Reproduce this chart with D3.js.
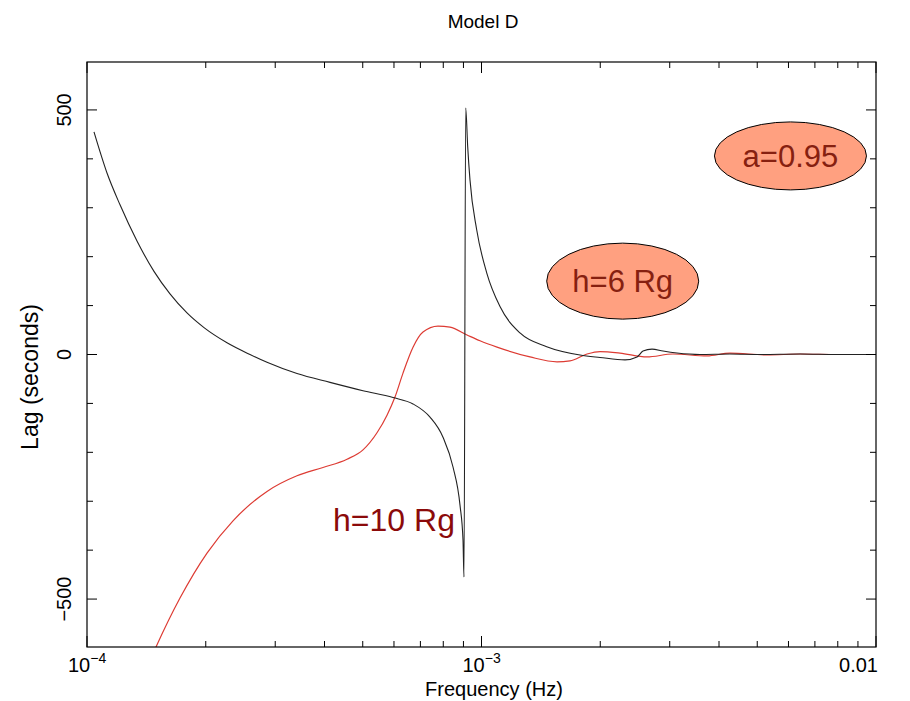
<!DOCTYPE html>
<html><head><meta charset="utf-8">
<script src="https://cdn.jsdelivr.net/npm/d3@7"></script>
<style>body{margin:0;background:#fff}text{font-family:"Liberation Sans",Arial,Helvetica,sans-serif}</style>
</head><body><svg id="c" width="910" height="701"></svg>
<script>
// ---- data (log10 of frequency in Hz, lag in seconds) ----
const blackLogF = [-3.9823,-3.9493,-3.9163,-3.8733,-3.8302,-3.7896,-3.7465,-3.7034,-3.6451,-3.5868,-3.5437,-3.4677,-3.3840,-3.3004,-3.2243,-3.1736,-3.1305,-3.0976,-3.0722,-3.0545,-3.0469,-3.0444,-3.0400,-3.0350,-3.0292,-3.0122,-2.9868,-2.9531,-2.9024,-2.8347,-2.7503,-2.6996,-2.6362,-2.6058,-2.5906,-2.5678,-2.5399,-2.5044,-2.4461,-2.3701,-2.2940,-2.1926,-2.1000,-2.0000];
const blackLag  = [455,371,306,232,170,124,85,55,24,0,-16,-39,-57,-74,-88,-101,-128,-169,-230,-308,-379,-455,504,425,357,255,167,98,44,16,-1,-6,-11,-5,7,11,7,3,0,1,0,1,0,0];
const redLogF = [-3.8450,-3.8251,-3.7643,-3.6958,-3.6299,-3.5437,-3.4677,-3.4018,-3.3409,-3.3004,-3.2649,-3.2395,-3.2193,-3.1990,-3.1736,-3.1483,-3.1103,-3.0798,-3.0368,-3.0038,-2.9607,-2.8770,-2.8086,-2.7757,-2.7326,-2.6996,-2.6489,-2.5805,-2.5146,-2.4284,-2.3701,-2.2763,-2.1926,-2.0913,-2.0000];
const redLag  = [-634,-598,-498,-406,-340,-280,-248,-231,-214,-195,-160,-124,-87,-38,15,46,58,56,40,28,15,-5,-15,-13,1,6,3,-5,1,-3,3,-1,1,0,0];

const xMajor = [1e-4, 1e-3, 1e-2];
const xTickBase = ["10", "10", "0.01"];
const xTickExp  = ["\u22124", "\u22123", ""];
const yMajor = [-500, 0, 500];
const yTickLabels = ["\u2212500", "0", "500"];
const yMinor = [-500,-400,-300,-200,-100,0,100,200,300,400,500];

const titleText = "Model D";
const xLabel = "Frequency (Hz)";
const yLabel = "Lag (seconds)";
const ellipseNotes = [
  {text: "a=0.95", f: 6.07e-3, lag: 406},
  {text: "h=6 Rg", f: 2.28e-3, lag: 150}
];
const plainNote = {text: "h=10 Rg", f: 4.205e-4, lag: -361};

// ---- layout ----
const L = 87, R = 876, T = 62, B = 647;
const svg = d3.select("#c");
const x = d3.scaleLog().domain([1e-4, 1e-2]).range([L, R]);
const y = d3.scaleLinear().domain([-598, 598]).range([B, T]);

svg.append("defs").append("clipPath").attr("id","clip")
  .append("rect").attr("x",L).attr("y",T).attr("width",R-L).attr("height",B-T);

const line = d3.line().x(d => x(d[0])).y(d => y(d[1])).curve(d3.curveMonotoneX);
const blackData = blackLogF.map((lf,i)=>[Math.pow(10,lf), blackLag[i]]);
const redData = redLogF.map((lf,i)=>[Math.pow(10,lf), redLag[i]]);

const g = svg.append("g").attr("clip-path","url(#clip)");
g.append("path").datum(redData).attr("d", line)
  .attr("fill","none").attr("stroke","#dd3b33").attr("stroke-width",1.2);
g.append("path").datum(blackData).attr("d", line)
  .attr("fill","none").attr("stroke","#222").attr("stroke-width",1.1);

// frame
svg.append("rect").attr("x",L).attr("y",T).attr("width",R-L).attr("height",B-T)
  .attr("fill","none").attr("stroke","#000").attr("stroke-width",1.2);

// ticks (inward on all sides)
const xMinor = [];
for (let d = -4; d < -2; d++) for (let m = 2; m <= 9; m++) xMinor.push(m * Math.pow(10, d));
const axG = svg.append("g").attr("stroke","#000").attr("stroke-width",1);
xMinor.forEach(v => {
  axG.append("line").attr("x1",x(v)).attr("x2",x(v)).attr("y1",B).attr("y2",B-6);
  axG.append("line").attr("x1",x(v)).attr("x2",x(v)).attr("y1",T).attr("y2",T+6);
});
xMajor.forEach(v => {
  axG.append("line").attr("x1",x(v)).attr("x2",x(v)).attr("y1",B).attr("y2",B-11);
  axG.append("line").attr("x1",x(v)).attr("x2",x(v)).attr("y1",T).attr("y2",T+11);
});
yMinor.forEach(v => {
  const len = yMajor.includes(v) ? 10 : 6;
  axG.append("line").attr("x1",L).attr("x2",L+len).attr("y1",y(v)).attr("y2",y(v));
  axG.append("line").attr("x1",R).attr("x2",R-len).attr("y1",y(v)).attr("y2",y(v));
});

// x tick labels
xMajor.forEach((v,i) => {
  const t = svg.append("text").attr("y", 672).attr("font-size",20).attr("fill","#000");
  if (xTickExp[i]) {
    t.attr("x", x(v) - 19);
    t.append("tspan").text(xTickBase[i]);
    t.append("tspan").attr("dy",-9).attr("font-size",14).text(xTickExp[i]);
  } else {
    t.attr("x", R + 2).attr("text-anchor","end").text(xTickBase[i]);
  }
});
// y tick labels (rotated)
yMajor.forEach((v,i) => {
  svg.append("text").attr("transform",`translate(71,${y(v)}) rotate(-90)`)
    .attr("text-anchor","middle").attr("font-size",20).attr("fill","#000").text(yTickLabels[i]);
});

// titles
svg.append("text").attr("x",483).attr("y",28).attr("text-anchor","middle").attr("font-size",19).text(titleText);
svg.append("text").attr("x",494).attr("y",696).attr("text-anchor","middle").attr("font-size",20).text(xLabel);
svg.append("text").attr("transform","translate(38,377) rotate(-90)").attr("text-anchor","middle")
  .attr("font-size",23).text(yLabel);

// annotations
ellipseNotes.forEach(n => {
  const cx = x(n.f), cy = y(n.lag);
  svg.append("ellipse").attr("cx",cx).attr("cy",cy).attr("rx",76).attr("ry",n.text==="a=0.95"?34:38)
    .attr("fill","#ffa080").attr("stroke","#000").attr("stroke-width",1);
  svg.append("text").attr("x",cx).attr("y",cy+11).attr("text-anchor","middle")
    .attr("font-size",31).attr("fill","#862010").text(n.text);
});
svg.append("text").attr("x",x(plainNote.f)).attr("y",y(plainNote.lag)).attr("font-size",32)
  .attr("fill","#8b0a0a").text(plainNote.text);
</script></body></html>
